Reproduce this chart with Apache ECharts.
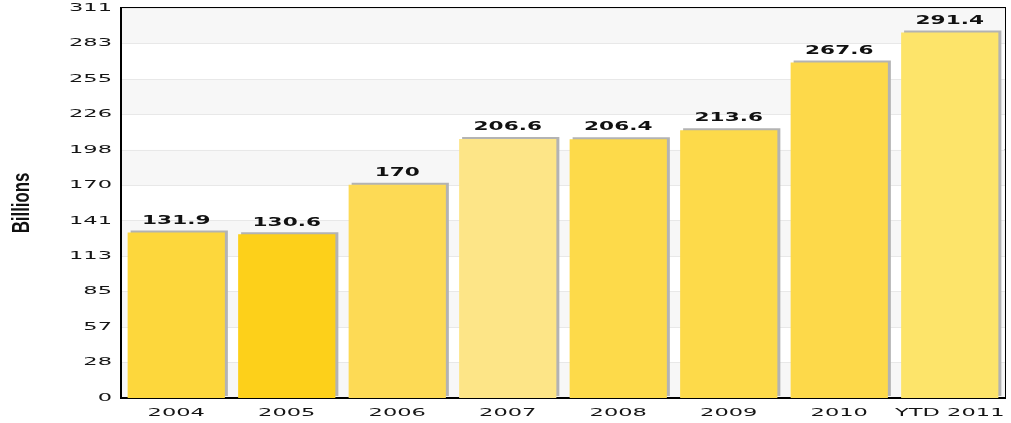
<!DOCTYPE html>
<html><head><meta charset="utf-8">
<script src="https://cdn.jsdelivr.net/npm/echarts@6/dist/echarts.min.js"></script>
<style>html,body{margin:0;padding:0;background:#fff}#c{width:1011px;height:423px}</style>
</head><body><div id="c"></div>
<script>
const categories = ['2004','2005','2006','2007','2008','2009','2010','YTD 2011'];
const values = [131.9, 130.6, 170, 206.6, 206.4, 213.6, 267.6, 291.4];
const barColors = ['#FDD73C','#FDD01A','#FDDA55','#FDE587','#FDDA4A','#FDDA4A','#FDD94A','#FDE46A'];
const yTickLabels = ['0','28','57','85','113','141','170','198','226','255','283','311'];
const yMax = 311;

// The reference's fonts are stretched horizontally; emulate with a per-font horizontal scale.
function fontScale(font) {
  if (!font) return 1;
  if (font.indexOf('Verdana') >= 0) return 1.8;
  if (font.indexOf('DejaVu Sans') >= 0) return 2.05;
  if (font.indexOf('Liberation Sans') >= 0) return 0.7;
  return 1;
}
(function () {
  const P = CanvasRenderingContext2D.prototype;
  const mt = P.measureText, ft = P.fillText, st = P.strokeText;
  P.measureText = function (t) {
    const m = mt.call(this, t); const s = fontScale(this.font);
    if (s === 1) return m;
    return {width: m.width * s, actualBoundingBoxAscent: m.actualBoundingBoxAscent, actualBoundingBoxDescent: m.actualBoundingBoxDescent,
      actualBoundingBoxLeft: m.actualBoundingBoxLeft * s, actualBoundingBoxRight: m.actualBoundingBoxRight * s,
      fontBoundingBoxAscent: m.fontBoundingBoxAscent, fontBoundingBoxDescent: m.fontBoundingBoxDescent};
  };
  function wrap(orig) {
    return function (t, x, y, w) {
      const s = fontScale(this.font);
      if (s === 1) return w === undefined ? orig.call(this, t, x, y) : orig.call(this, t, x, y, w);
      this.save(); this.translate(x, y); this.scale(s, 1);
      orig.call(this, t, 0, 0); this.restore();
    };
  }
  P.fillText = wrap(ft); P.strokeText = wrap(st);
})();

const chart = echarts.init(document.getElementById('c'));
chart.setOption({
  animation: false,
  grid: {left: 121, right: 6, top: 8, bottom: 25, outerBoundsMode: 'none', containLabel: false,
    show: true, borderColor: '#000', borderWidth: 2, backgroundColor: 'transparent'},
  xAxis: {
    type: 'category', data: categories,
    axisLine: {lineStyle: {color: '#000', width: 2}},
    axisTick: {show: false},
    axisLabel: {color: '#151515', fontFamily: 'DejaVu Sans', fontSize: 11, margin: 4, interval: 0}
  },
  yAxis: {
    type: 'value', min: 0, max: yMax, interval: yMax / (yTickLabels.length - 1),
    name: 'Billions', nameLocation: 'middle', nameGap: 90, nameRotate: 90,
    nameTextStyle: {fontFamily: 'Liberation Sans', fontWeight: 'bold', fontSize: 24, color: '#111'},
    axisLine: {show: true, lineStyle: {color: '#000', width: 2}},
    axisTick: {show: false},
    axisLabel: {color: '#151515', fontFamily: 'DejaVu Sans', fontSize: 11, margin: 9,
      formatter: (v) => yTickLabels[Math.round(v / (yMax / (yTickLabels.length - 1)))]},
    splitLine: {show: true, lineStyle: {color: '#e8e8e8'}},
    splitArea: {show: true, areaStyle: {color: ['#f7f7f7', '#ffffff']}}
  },
  series: [{
    type: 'bar', barWidth: '88%',
    data: values.map((v, i) => ({value: v, itemStyle: {color: barColors[i]}})),
    itemStyle: {shadowColor: '#b3b3b3', shadowOffsetX: 3, shadowOffsetY: -2, shadowBlur: 0},
    label: {show: true, position: 'top', distance: 1, color: '#111', fontFamily: "Verdana, 'DejaVu Sans'", fontWeight: 'bold', fontSize: 12}
  }]
});
</script></body></html>
